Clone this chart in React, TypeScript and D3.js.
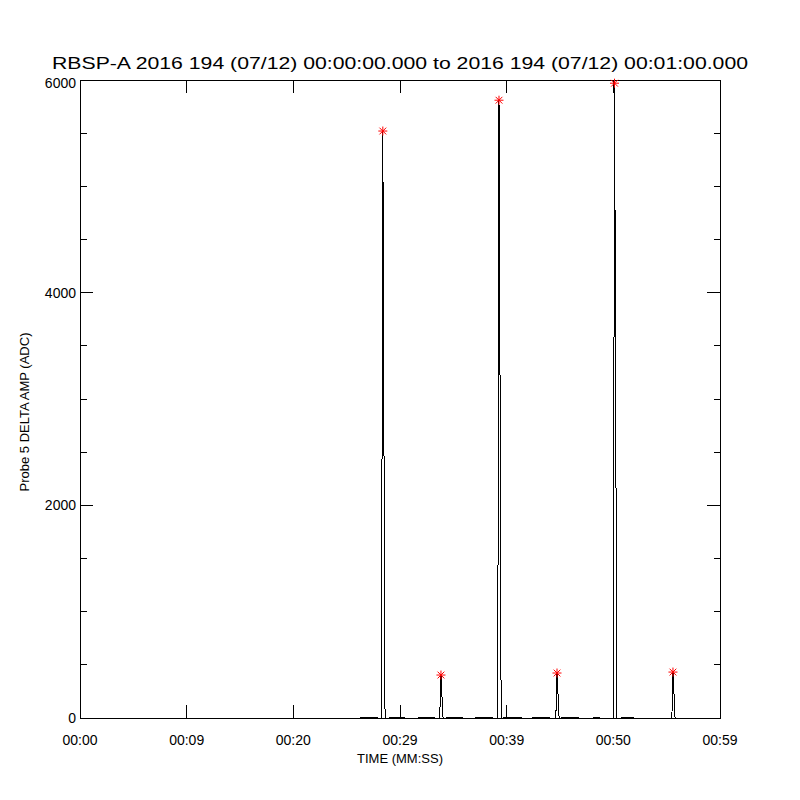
import { useRef, useEffect } from 'react';
import * as d3 from 'd3';

// Spike bursts, [time in s, amplitude in ADC]
const spikeA = [[28.27, 0], [28.30, 1845], [28.39, 5520], [28.48, 3075], [28.57, 470], [28.60, 0]];
const smallA = [[33.72, 0], [33.75, 100], [33.84, 404], [33.93, 216], [34.02, 20], [34.05, 0]];
const spikeB = [[39.16, 0], [39.19, 1450], [39.28, 5810], [39.37, 3420], [39.46, 517], [39.49, 0]];
const smallB = [[44.60, 0], [44.63, 80], [44.72, 423], [44.81, 235], [44.90, 20], [44.93, 0]];
const spikeC = [[49.99, 0], [50.02, 1250], [50.11, 5970], [50.20, 3696], [50.29, 987], [50.32, 0]];
const smallC = [[55.47, 0], [55.50, 56], [55.59, 432], [55.68, 254], [55.77, 20], [55.80, 0]];

// short low-level stretches near the baseline [start, end]
const lowStretches = [
  [26.34, 27.84], [29.06, 30.38], [31.78, 33.19], [34.41, 35.81], [37.13, 38.63],
  [39.75, 41.34], [42.47, 43.97], [45.19, 46.69], [48.19, 48.66], [50.81, 51.84]
];
const lowLevel = 8;

const xTickValues = [0, 10, 20, 30, 40, 50, 60];
const xTickLabels = ['00:00', '00:09', '00:20', '00:29', '00:39', '00:50', '00:59'];
const yMajorTicks = [0, 2000, 4000, 6000];

const titleText = 'RBSP-A 2016 194 (07/12) 00:00:00.000 to 2016 194 (07/12) 00:01:00.000';

export default function App() {
  const ref = useRef<SVGSVGElement | null>(null);

  useEffect(() => {
    if (!ref.current) return;
    const width = 800;
    const height = 800;
    const left = 80, right = 720, top = 80, bottom = 718;

    const svg = d3.select(ref.current);
    svg.selectAll('*').remove();

    svg.append('rect').attr('width', width).attr('height', height).attr('fill', '#fff');

    const x = d3.scaleLinear().domain([0, 60]).range([left, right]);
    const y = d3.scaleLinear().domain([0, 6000]).range([bottom, top]);

    const font = "'Liberation Sans', 'DejaVu Sans', sans-serif";

    // build the series
    const bursts = [spikeA, smallA, spikeB, smallB, spikeC, smallC];
    const pts: number[][] = [[0, 0], [60, 0]];
    bursts.forEach(b => b.forEach(p => pts.push(p)));
    lowStretches.forEach(([a, b]) => {
      pts.push([a - 0.02, 0], [a, lowLevel], [b, lowLevel], [b + 0.02, 0]);
    });
    pts.sort((a, b) => a[0] - b[0]);

    const line = d3.line<number[]>()
      .x(d => x(d[0]))
      .y(d => y(d[1]));

    svg.append('path')
      .datum(pts)
      .attr('fill', 'none')
      .attr('stroke', '#000')
      .attr('stroke-width', 1)
      .attr('shape-rendering', 'crispEdges')
      .attr('d', line);

    // frame
    const axes = svg.append('g')
      .attr('stroke', '#000')
      .attr('stroke-width', 1)
      .attr('shape-rendering', 'crispEdges');

    axes.append('rect')
      .attr('x', left).attr('y', top)
      .attr('width', right - left).attr('height', bottom - top)
      .attr('fill', 'none');

    const majLen = 13, minLen = 6.5;

    // x ticks (bottom and top)
    xTickValues.forEach(v => {
      axes.append('line').attr('x1', x(v)).attr('x2', x(v)).attr('y1', bottom).attr('y2', bottom - majLen);
      axes.append('line').attr('x1', x(v)).attr('x2', x(v)).attr('y1', top).attr('y2', top + majLen);
    });

    // y ticks (left and right)
    d3.range(0, 6001, 500).forEach(v => {
      const len = yMajorTicks.includes(v) ? majLen : minLen;
      axes.append('line').attr('x1', left).attr('x2', left + len).attr('y1', y(v)).attr('y2', y(v));
      axes.append('line').attr('x1', right).attr('x2', right - len).attr('y1', y(v)).attr('y2', y(v));
    });

    // tick labels
    svg.append('g')
      .selectAll('text')
      .data(xTickValues)
      .join('text')
      .attr('x', d => x(d))
      .attr('y', 745)
      .attr('text-anchor', 'middle')
      .attr('font-family', font)
      .attr('font-size', 14)
      .text((d, i) => xTickLabels[i]);

    svg.append('g')
      .selectAll('text')
      .data(yMajorTicks)
      .join('text')
      .attr('x', 76)
      .attr('y', d => y(d) + 5 + (d === 6000 ? 3 : 0))
      .attr('text-anchor', 'end')
      .attr('font-family', font)
      .attr('font-size', 14)
      .text(d => String(d));

    // axis titles
    svg.append('text')
      .attr('x', 400).attr('y', 763)
      .attr('text-anchor', 'middle')
      .attr('font-family', font)
      .attr('font-size', 13)
      .text('TIME (MM:SS)');

    svg.append('text')
      .attr('transform', 'translate(29,412) rotate(-90)')
      .attr('text-anchor', 'middle')
      .attr('font-family', font)
      .attr('font-size', 13)
      .text('Probe 5 DELTA AMP (ADC)');

    svg.append('text')
      .attr('x', 52).attr('y', 69)
      .attr('font-family', font)
      .attr('font-size', 17)
      .attr('textLength', 696)
      .attr('lengthAdjust', 'spacingAndGlyphs')
      .text(titleText);

    // red asterisks on burst peaks
    const peaks = bursts.map(b => b.reduce((m, p) => (p[1] > m[1] ? p : m)));
    const star = svg.append('g').attr('stroke', '#ff0000').attr('stroke-width', 1);
    peaks.forEach(p => {
      const cx = x(p[0]), cy = y(p[1]), r = 4.5;
      star.append('line').attr('x1', cx - r).attr('x2', cx + r).attr('y1', cy).attr('y2', cy);
      star.append('line').attr('x1', cx).attr('x2', cx).attr('y1', cy - r).attr('y2', cy + r);
      star.append('line').attr('x1', cx - r * 0.75).attr('x2', cx + r * 0.75).attr('y1', cy - r * 0.75).attr('y2', cy + r * 0.75);
      star.append('line').attr('x1', cx - r * 0.75).attr('x2', cx + r * 0.75).attr('y1', cy + r * 0.75).attr('y2', cy - r * 0.75);
    });
  }, []);

  return (
    <svg
      ref={ref}
      width={800}
      height={800}
      style={{ position: 'absolute', left: 0, top: 0, display: 'block' }}
    />
  );
}
